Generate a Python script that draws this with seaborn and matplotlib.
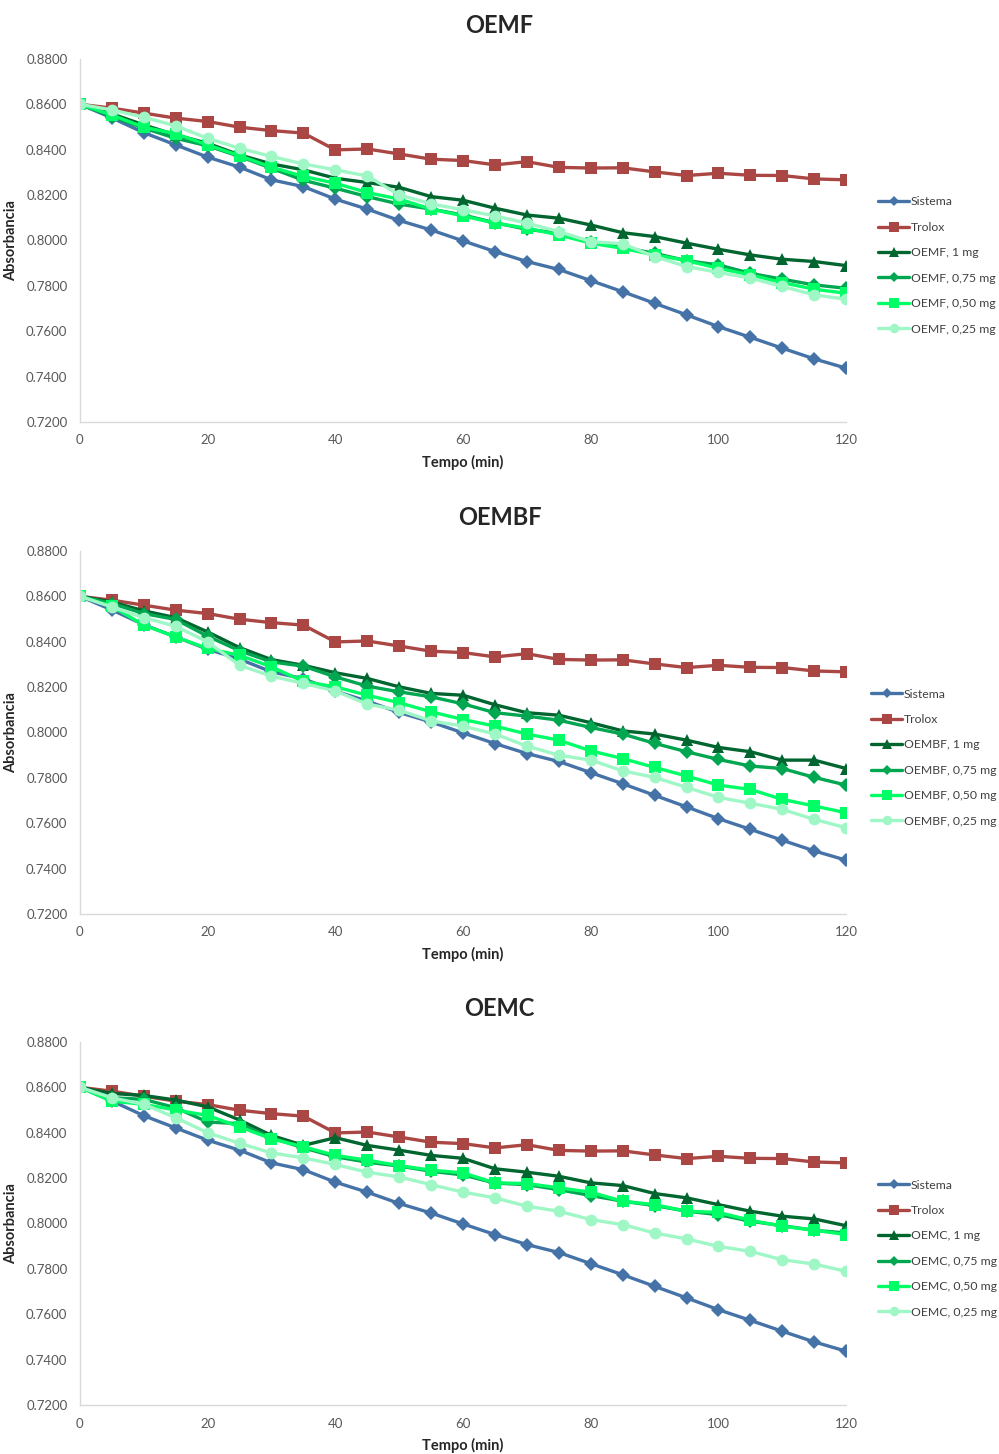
"""
plot.py
Absorbance decay over time for the three extracts (OEMF, OEMBF, OEMC).
"""

import numpy as np
import pandas as pd
import matplotlib
matplotlib.use("Agg")
import matplotlib.pyplot as plt
import seaborn as sns
from matplotlib.ticker import FormatStrFormatter

# ---- data -------------------------------------------------------------
tempo = list(range(0, 125, 5))

sistema = [0.8600, 0.8540, 0.8475, 0.8421, 0.8367, 0.8323, 0.8267, 0.8237, 0.8182,
           0.8138, 0.8088, 0.8046, 0.7998, 0.7951, 0.7907, 0.7872, 0.7823, 0.7774,
           0.7723, 0.7672, 0.7620, 0.7573, 0.7525, 0.7478, 0.7437]
trolox = [0.8600, 0.8583, 0.8561, 0.8539, 0.8524, 0.8499, 0.8484, 0.8473, 0.8399,
          0.8403, 0.8381, 0.8358, 0.8352, 0.8333, 0.8347, 0.8322, 0.8319, 0.8320,
          0.8302, 0.8286, 0.8296, 0.8287, 0.8286, 0.8271, 0.8267]

oemf_100 = [0.8600, 0.8558, 0.8509, 0.8465, 0.8428, 0.8377, 0.8337, 0.8311, 0.8274,
            0.8255, 0.8234, 0.8193, 0.8177, 0.8142, 0.8112, 0.8098, 0.8068, 0.8034,
            0.8017, 0.7988, 0.7961, 0.7936, 0.7917, 0.7907, 0.7889]
oemf_075 = [0.8600, 0.8546, 0.8495, 0.8450, 0.8417, 0.8370, 0.8318, 0.8265, 0.8230,
            0.8193, 0.8160, 0.8138, 0.8112, 0.8078, 0.8049, 0.8032, 0.7995, 0.7970,
            0.7943, 0.7911, 0.7892, 0.7855, 0.7829, 0.7804, 0.7789]
oemf_050 = [0.8600, 0.8553, 0.8499, 0.8470, 0.8421, 0.8373, 0.8323, 0.8282, 0.8252,
            0.8211, 0.8182, 0.8138, 0.8108, 0.8076, 0.8054, 0.8024, 0.7988, 0.7965,
            0.7936, 0.7911, 0.7877, 0.7848, 0.7814, 0.7785, 0.7767]
oemf_025 = [0.8600, 0.8575, 0.8543, 0.8505, 0.8450, 0.8406, 0.8370, 0.8337, 0.8311,
            0.8284, 0.8201, 0.8161, 0.8135, 0.8108, 0.8076, 0.8039, 0.7995, 0.7985,
            0.7929, 0.7885, 0.7859, 0.7834, 0.7797, 0.7760, 0.7741]

oembf_100 = [0.8600, 0.8575, 0.8536, 0.8506, 0.8443, 0.8374, 0.8321, 0.8296, 0.8263,
             0.8238, 0.8201, 0.8172, 0.8164, 0.8122, 0.8087, 0.8076, 0.8043, 0.8007,
             0.7993, 0.7966, 0.7934, 0.7915, 0.7878, 0.7878, 0.7841]
oembf_075 = [0.8600, 0.8568, 0.8524, 0.8498, 0.8424, 0.8360, 0.8311, 0.8292, 0.8245,
             0.8204, 0.8179, 0.8157, 0.8126, 0.8087, 0.8072, 0.8054, 0.8022, 0.7993,
             0.7952, 0.7915, 0.7881, 0.7852, 0.7841, 0.7802, 0.7768]
oembf_050 = [0.8600, 0.8556, 0.8473, 0.8421, 0.8370, 0.8340, 0.8289, 0.8225, 0.8201,
             0.8164, 0.8131, 0.8091, 0.8057, 0.8028, 0.7993, 0.7966, 0.7919, 0.7885,
             0.7846, 0.7808, 0.7768, 0.7749, 0.7705, 0.7676, 0.7646]
oembf_025 = [0.8600, 0.8553, 0.8506, 0.8468, 0.8399, 0.8296, 0.8248, 0.8216, 0.8183,
             0.8125, 0.8098, 0.8051, 0.8028, 0.7993, 0.7940, 0.7900, 0.7878, 0.7831,
             0.7802, 0.7758, 0.7714, 0.7688, 0.7661, 0.7617, 0.7580]

oemc_100 = [0.8600, 0.8573, 0.8564, 0.8544, 0.8514, 0.8456, 0.8388, 0.8344, 0.8378,
            0.8344, 0.8323, 0.8300, 0.8287, 0.8241, 0.8226, 0.8208, 0.8179, 0.8167,
            0.8132, 0.8113, 0.8083, 0.8054, 0.8032, 0.8020, 0.7990]
oemc_075 = [0.8600, 0.8554, 0.8547, 0.8510, 0.8447, 0.8440, 0.8378, 0.8333, 0.8294,
            0.8270, 0.8253, 0.8230, 0.8214, 0.8178, 0.8171, 0.8149, 0.8123, 0.8098,
            0.8079, 0.8054, 0.8039, 0.8010, 0.7990, 0.7970, 0.7958]
oemc_050 = [0.8600, 0.8539, 0.8525, 0.8500, 0.8476, 0.8426, 0.8373, 0.8338, 0.8300,
            0.8279, 0.8255, 0.8235, 0.8223, 0.8179, 0.8176, 0.8157, 0.8138, 0.8098,
            0.8083, 0.8054, 0.8049, 0.8014, 0.7988, 0.7970, 0.7951]
oemc_025 = [0.8600, 0.8554, 0.8525, 0.8466, 0.8400, 0.8353, 0.8311, 0.8289, 0.8260,
            0.8226, 0.8205, 0.8171, 0.8138, 0.8113, 0.8076, 0.8054, 0.8017, 0.7995,
            0.7958, 0.7932, 0.7899, 0.7877, 0.7840, 0.7821, 0.7789]

extratos = ["OEMF", "OEMBF", "OEMC"]
doses = ["1 mg", "0,75 mg", "0,50 mg", "0,25 mg"]
series_por_extrato = {
    "OEMF": [oemf_100, oemf_075, oemf_050, oemf_025],
    "OEMBF": [oembf_100, oembf_075, oembf_050, oembf_025],
    "OEMC": [oemc_100, oemc_075, oemc_050, oemc_025],
}

cores = ["#4572a7", "#aa4643", "#00652e", "#00a650", "#00ff66", "#9ff7c6"]
marcadores = ["D", "s", "^", "D", "s", "o"]
tamanhos = [7, 8.5, 8.5, 7, 8.5, 8.5]

# ---- style ------------------------------------------------------------
sns.set_theme(style="white")
plt.rcParams["font.family"] = ["Lato", "DejaVu Sans"]

fig = plt.figure(figsize=(9.99, 14.54), dpi=100)

ax_bottoms = [0.7098, 0.3714, 0.0337]
title_y = [0.9828, 0.6444, 0.3067]
legend_x = [1.042, 1.033, 1.042]

for extrato, bottom, ty, lx in zip(extratos, ax_bottoms, title_y, legend_x):
    ax = fig.add_axes([0.080, bottom, 0.767, 0.2497])

    nomes = ["Sistema", "Trolox"] + [f"{extrato}, {d}" for d in doses]
    valores = [sistema, trolox] + series_por_extrato[extrato]

    df = pd.concat(
        [pd.DataFrame({"Tempo": tempo, "Abs": v, "Serie": n}) for n, v in zip(nomes, valores)],
        ignore_index=True,
    )

    for nome, cor, mk, ms in zip(nomes, cores, marcadores, tamanhos):
        sns.lineplot(
            data=df[df["Serie"] == nome],
            x="Tempo",
            y="Abs",
            color=cor,
            marker=mk,
            markersize=ms,
            markeredgewidth=0,
            linewidth=2.4,
            label=nome,
            ax=ax,
        )

    ax.set_xlim(0, 120)
    ax.set_ylim(0.72, 0.88)
    ax.set_xticks(np.arange(0, 121, 20))
    ax.set_yticks(np.arange(0.72, 0.8801, 0.02))
    ax.yaxis.set_major_formatter(FormatStrFormatter("%.4f"))
    ax.tick_params(axis="both", length=0, labelsize=9.5, colors="#595959", pad=9)

    for side in ["top", "right"]:
        ax.spines[side].set_visible(False)
    for side in ["left", "bottom"]:
        ax.spines[side].set_color("#d9d9d9")
        ax.spines[side].set_linewidth(1.0)

    ax.set_xlabel("Tempo (min)", fontsize=10.5, fontweight="bold", labelpad=6)
    ax.set_ylabel("Absorbancia", fontsize=10.5, fontweight="bold", labelpad=6)

    handles, labels = ax.get_legend_handles_labels()
    ax.legend(
        handles, labels,
        loc="upper left",
        bbox_to_anchor=(lx, 0.621),
        borderaxespad=0,
        borderpad=0,
        frameon=False,
        fontsize=8.8,
        handlelength=2.5,
        handletextpad=0.15,
        labelspacing=1.18,
        markerscale=0.8,
        labelcolor="#404040",
    )

    fig.text(0.5, ty, extrato, ha="center", va="center", fontsize=17, fontweight="bold")

fig.savefig("out.png", dpi=100)
plt.close(fig)
